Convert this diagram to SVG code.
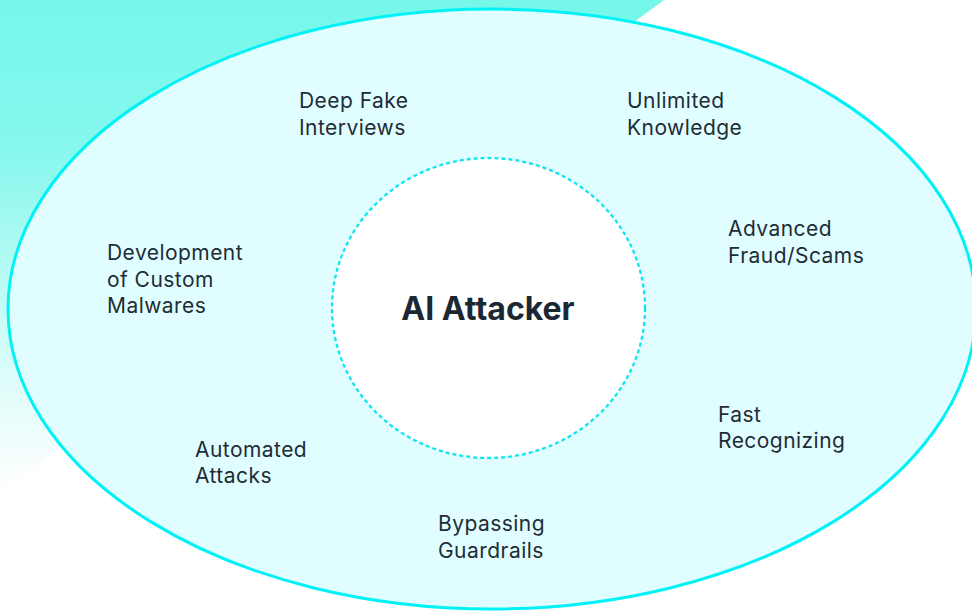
<svg xmlns="http://www.w3.org/2000/svg" width="972" height="611" viewBox="0 0 972 611">
  <defs>
    <linearGradient id="bgFade" x1="0" y1="0" x2="0" y2="1">
      <stop offset="0" stop-color="#76f7ea"/>
      <stop offset="0.3" stop-color="#86f8ee"/>
      <stop offset="0.7" stop-color="#d2fcf8"/>
      <stop offset="1" stop-color="#ffffff"/>
    </linearGradient>
    <style>
      .label { font-family: Inter, "Liberation Sans", sans-serif; font-size: 21px; letter-spacing: 0.45px; fill: #1f2c36; }
      .title { font-family: Inter, "Liberation Sans", sans-serif; font-size: 32px; font-weight: 700; fill: #1b2833; }
    </style>
  </defs>

  <!-- page background with the teal wedge in the top-left corner -->
  <rect x="0" y="0" width="972" height="611" fill="#ffffff"/>
  <polygon points="0,0 664,0 0,492" fill="url(#bgFade)"/>

  <!-- outer field -->
  <g id="outer-field">
    <ellipse cx="492" cy="309" rx="484" ry="300" fill="#e0feff" stroke="#00f2f6" stroke-width="3"/>
  </g>

  <!-- central node -->
  <g id="ai-attacker">
    <ellipse cx="488.5" cy="308" rx="156.5" ry="150" fill="#ffffff" stroke="#10e4f2" stroke-width="2.3" stroke-dasharray="4 3"/>
    <text class="title" x="488" y="320" text-anchor="middle">AI Attacker</text>
  </g>

  <g id="deep-fake-interviews">
    <text class="label" x="299" y="108">Deep Fake</text>
    <text class="label" x="299" y="135">Interviews</text>
  </g>

  <g id="unlimited-knowledge">
    <text class="label" x="627" y="108">Unlimited</text>
    <text class="label" x="627" y="135">Knowledge</text>
  </g>

  <g id="advanced-fraud">
    <text class="label" x="728" y="236">Advanced</text>
    <text class="label" x="728" y="263">Fraud/Scams</text>
  </g>

  <g id="custom-malwares">
    <text class="label" x="107" y="260">Development</text>
    <text class="label" x="107" y="287">of Custom</text>
    <text class="label" x="107" y="313">Malwares</text>
  </g>

  <g id="fast-recognizing">
    <text class="label" x="718" y="422">Fast</text>
    <text class="label" x="718" y="448">Recognizing</text>
  </g>

  <g id="automated-attacks">
    <text class="label" x="195" y="457">Automated</text>
    <text class="label" x="195" y="483">Attacks</text>
  </g>

  <g id="bypassing-guardrails">
    <text class="label" x="438" y="531">Bypassing</text>
    <text class="label" x="438" y="558">Guardrails</text>
  </g>

  <!-- no connectors in this diagram -->
  <g id="connectors"/>
</svg>
